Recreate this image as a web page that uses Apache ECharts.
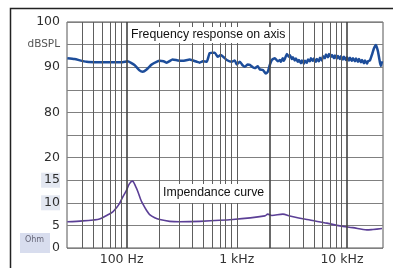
<!DOCTYPE html>
<html>
<head>
<meta charset="utf-8">
<script src="https://cdn.jsdelivr.net/npm/echarts@6/dist/echarts.min.js"></script>
<style>
  html, body { margin: 0; padding: 0; background: #fff; }
  #chart { width: 393px; height: 268px; }
</style>
</head>
<body>
<div id="chart"></div>
<script>
// frequency response on axis (Hz, dB SPL)
const respFreq = [29, 33.7, 43.3, 56.8, 77.8, 92, 102, 118, 131, 140, 152, 169, 187, 200, 217, 231, 262, 291, 323, 374,
  433, 461, 491, 534, 568, 631, 672, 715, 762, 811, 900, 959, 1000, 1065, 1134, 1183, 1259, 1313, 1398, 1458,
  1552, 1619, 1724, 1835, 1914, 1995, 2081, 2215, 2360, 2461,
  2512, 2618, 2675, 2789, 2848, 2970, 3032, 3162, 3228, 3366, 3437, 3584, 3661, 3817, 3898, 4064, 4150, 4329, 4420, 4609,
  4706, 4909, 5012, 5226, 5337, 5565, 5682, 5926, 6050, 6310, 6442, 6718, 6859, 7154, 7304, 7617, 7778, 8110, 8281, 8636,
  8817, 9195, 9390, 9792, 10000, 10428, 10647, 11103, 11337, 11822, 12072, 12589, 12853, 13404, 13686, 14272, 14573, 15197, 15517, 16181,
  16873, 17595, 18348, 18734, 19128, 19953, 20373, 20803];
const respDb = [92.0, 91.8, 91.2, 91.1, 91.1, 91.1, 91.3, 90.5, 89.3, 89.0, 89.5, 90.6, 91.2, 91.4, 91.3, 91.0, 91.7, 91.5, 91.4, 91.7,
  91.2, 91.0, 91.3, 91.2, 93.1, 93.2, 92.3, 92.7, 92.2, 91.6, 91.2, 91.5, 90.6, 91.2, 90.4, 90.1, 90.6, 90.5, 90.0, 89.8,
  90.2, 89.5, 89.4, 88.6, 89.0, 90.5, 91.6, 92.0, 91.3, 91.6,
  91.2, 92.0, 91.4, 92.4, 92.9, 92.3, 92.7, 91.8, 92.2, 91.5, 91.9, 91.2, 91.6, 90.9, 91.5, 90.8, 91.4, 91.0, 91.7, 91.3,
  92.0, 91.4, 91.9, 91.2, 91.8, 91.3, 92.1, 91.5, 92.4, 92.0, 92.8, 92.2, 92.9, 92.3, 92.7, 92.0, 92.6, 91.9, 92.5, 91.8,
  92.4, 91.7, 92.3, 91.6, 92.2, 91.5, 92.1, 91.4, 92.0, 91.3, 91.9, 91.2, 91.8, 91.1, 91.6, 90.9, 91.5, 90.8, 91.3, 91.5,
  92.8, 94.2, 94.9, 94.3, 93.5, 91.0, 90.3, 91.3];

// impedance curve (Hz, Ohm)
const impFreq = [29, 40, 50, 56.8, 67, 75, 81, 86, 92, 100, 106, 113, 121, 126, 134, 140, 152, 162, 180, 200,
  246, 303, 461, 920, 1800, 1910, 2080, 2620, 3030, 4330, 6580, 8630, 11300, 15150, 17200, 20800];
const impOhm = [5.8, 6.0, 6.2, 6.4, 7.3, 8.0, 8.9, 9.8, 11.2, 12.8, 14.2, 14.8, 13.6, 12.6, 10.8, 9.8, 8.3, 7.4, 6.7, 6.3,
  5.9, 5.8, 5.9, 6.3, 7.1, 7.5, 7.2, 7.5, 7.1, 6.3, 5.5, 4.9, 4.5, 4.0, 4.1, 4.3];

// grid and tick labels
const gridFreq = [40, 50, 60, 70, 80, 90, 100, 200, 300, 400, 500, 600, 700, 800, 900, 1000,
  2000, 3000, 4000, 5000, 6000, 7000, 8000, 9000, 10000];
const boldFreq = [100, 2000, 10000];
const xTickFreq = [100, 1000, 10000];
const xTickLabels = ['100 Hz', '1 kHz', '10 kHz'];
const ohmTicks = [0, 5, 10, 15, 20];
const dbTicks = [80, 90, 100];

const lg = Math.log10;
const chart = echarts.init(document.getElementById('chart'));

const labelFont = 'DejaVu Sans';
const option = {
  animation: false,
  backgroundColor: '#fff',
  title: [
    {
      text: 'Frequency response on axis', left: 128, top: 27, padding: [1, 3, 1, 3],
      backgroundColor: '#fff',
      textStyle: { fontFamily: 'Liberation Sans', fontSize: 12.3, fontWeight: 'normal', color: '#111', lineHeight: 14 }
    },
    {
      text: 'Impendance curve', left: 160, top: 184, padding: [2, 3, 3, 3],
      backgroundColor: '#fff',
      textStyle: { fontFamily: 'Liberation Sans', fontSize: 12.3, fontWeight: 'normal', color: '#111', lineHeight: 14 }
    }
  ],
  graphic: [
    { type: 'rect', shape: { x: 10.5, y: 8.5, width: 500, height: 400 },
      style: { fill: 'none', stroke: '#222', lineWidth: 1.5 } },
    { type: 'rect', shape: { x: 20, y: 233, width: 30, height: 20 }, style: { fill: '#d8ddee' } },
    { type: 'text', x: 25, y: 236, style: { text: 'Ohm', fontSize: 8, fontFamily: labelFont, fill: '#667' } }
  ],
  grid: { left: 67, right: 10, top: 22, bottom: 20, show: true, borderColor: '#555', borderWidth: 1 },
  xAxis: {
    type: 'value', min: lg(28.8), max: lg(21240),
    axisLine: { show: false }, axisTick: { show: false }, splitLine: { show: false },
    axisLabel: {
      customValues: xTickFreq.map(lg), margin: 5,
      fontFamily: labelFont, fontSize: 12.5, color: '#333',
      formatter: v => {
        const i = xTickFreq.findIndex(f => Math.abs(lg(f) - v) < 1e-6);
        if (i < 0) return '';
        return i === 1 ? '{c|' + xTickLabels[i] + '}' : '{s|' + xTickLabels[i] + '}';
      },
      rich: {
        c: { fontFamily: labelFont, fontSize: 12.5, color: '#333' },
        s: { fontFamily: labelFont, fontSize: 12.5, color: '#333', padding: [0, 10, 0, 0] }
      }
    }
  },
  yAxis: [
    {
      type: 'value', min: 0, max: 50, interval: 5,
      axisLine: { show: false }, axisTick: { show: false },
      splitLine: { lineStyle: { color: '#808080', width: 1 } },
      axisLabel: {
        margin: 7,
        formatter: v => {
          if (ohmTicks.includes(v)) return (v === 10 || v === 15) ? '{h|' + v + '}' : '{o|' + v + '}';
          if (dbTicks.includes(v + 50)) return '{o|' + (v + 50) + '}';
          if (v === 45) return '{u|dBSPL}';
          return '';
        },
        rich: {
          o: { fontFamily: labelFont, fontSize: 12.5, color: '#2e2e2e' },
          h: { fontFamily: labelFont, fontSize: 12.5, color: '#2e2e2e', backgroundColor: '#e3e7f1', padding: [1, 0, 1, 3] },
          u: { fontFamily: labelFont, fontSize: 10.5, color: '#555' }
        }
      }
    },
    { type: 'value', min: 50, max: 100, show: false }
  ],
  series: [
    {
      type: 'line', data: [], z: 1, silent: true,
      markLine: {
        silent: true, symbol: 'none', animation: false,
        label: { show: false },
        lineStyle: { color: '#5e5e5e', width: 1, type: 'solid' },
        emphasis: { disabled: true },
        data: gridFreq.map(f => ({
          xAxis: lg(f),
          lineStyle: boldFreq.includes(f) ? { color: '#444', width: 1.6, type: 'solid' } : { color: '#5e5e5e', width: 1, type: 'solid' }
        }))
      }
    },
    {
      name: 'Frequency response', type: 'line', yAxisIndex: 1, z: 3,
      data: respFreq.map((f, i) => [lg(f), respDb[i]]),
      showSymbol: false, smooth: 0.15,
      lineStyle: { color: '#1d4d9a', width: 2.5 }
    },
    {
      name: 'Impedance', type: 'line', yAxisIndex: 0, z: 3,
      data: impFreq.map((f, i) => [lg(f), impOhm[i]]),
      showSymbol: false, smooth: 0.3,
      lineStyle: { color: '#5b3f96', width: 1.6 }
    }
  ]
};
chart.setOption(option);
</script>
</body>
</html>
